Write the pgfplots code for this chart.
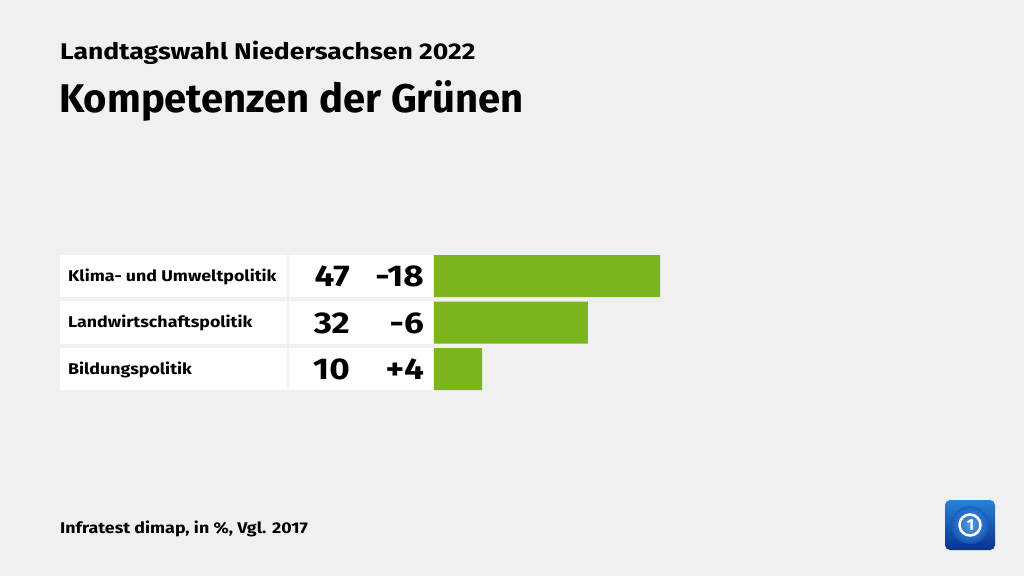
\documentclass[border=0pt]{standalone}
\usepackage{pgfplots}
\pgfplotsset{compat=1.18}
\usepackage{fontspec}
\setmainfont{Fira Sans}
\newfontfamily\wide{Fira Sans}[FakeStretch=1.15]
\newfontfamily\widesub{Fira Sans}[FakeStretch=1.17]
\newfontfamily\wider{Fira Sans}[FakeStretch=1.17]
\definecolor{bg}{HTML}{F0F0F0}
\definecolor{grn}{HTML}{7AB51D}
\begin{document}
\begin{tikzpicture}[x=1pt,y=1pt]
\fill[bg] (0,0) rectangle (1024,576);
% titles
\node[anchor=base west,inner sep=0,font=\widesub\fontsize{22.7}{26}\selectfont\bfseries] at (60,576-60) {Landtagswahl Niedersachsen 2022};
\node[anchor=base west,inner sep=0,font=\fontsize{40}{48}\selectfont\bfseries] at (59,576-113) {Kompetenzen der Grünen};
% rows
\foreach \i/\lab/\v/\d in {0/Klima- und Umweltpolitik/47/-18, 1/Landwirtschaftspolitik/32/-6, 2/Bildungspolitik/10/+4}{
  \pgfmathsetmacro{\top}{576-255-46.5*\i}
  \pgfmathsetmacro{\mid}{\top-21}
  \fill[white] (60,\top) rectangle (287,\top-42);
  \fill[white] (289,\top) rectangle (433,\top-42);
  \node[anchor=base west,inner sep=0,font=\wide\fontsize{15.5}{18}\selectfont\bfseries] at (68,\mid-5.5) {\lab};
  \node[anchor=base east,inner sep=0,font=\wider\fontsize{30}{34}\selectfont\bfseries] at (350,\mid-10.5) {\v};
  \node[anchor=base east,inner sep=0,font=\wider\fontsize{30}{34}\selectfont\bfseries] at (424,\mid-10.5) {\d};
}
\begin{axis}[at={(434pt,576pt-252.75pt)},anchor=north west,
  scale only axis,width=226pt,height=139.5pt,
  xmin=0,xmax=47,ymin=-0.5,ymax=2.5,y dir=reverse,
  xbar,bar width=42pt,bar shift=0pt,
  hide axis,clip=false]
\addplot[fill=grn,draw=none] coordinates {(47,0) (32,1) (10,2)};
\end{axis}
% footer
\node[anchor=base west,inner sep=0,font=\wide\fontsize{15.5}{18}\selectfont\bfseries] at (60,576-533) {Infratest dimap, in \%, Vgl. 2017};
% logo
\shade[top color={rgb,255:red,40;green,130;blue,215},bottom color={rgb,255:red,8;green,50;blue,140},rounded corners=5pt] (945,576-500) rectangle (995,576-550);
\shade[inner color={rgb,255:red,110;green,185;blue,245},outer color={rgb,255:red,20;green,90;blue,190},opacity=0.7] (970,576-525) circle (19);
\draw[white,line width=2.5pt] (970,576-525) circle (10.5);
\node[white,font=\fontsize{16}{16}\selectfont\bfseries,inner sep=0] at (970.5,576-525) {1};
\pgfresetboundingbox
\useasboundingbox (0,0) rectangle (1024,576);
\end{tikzpicture}
\end{document}
